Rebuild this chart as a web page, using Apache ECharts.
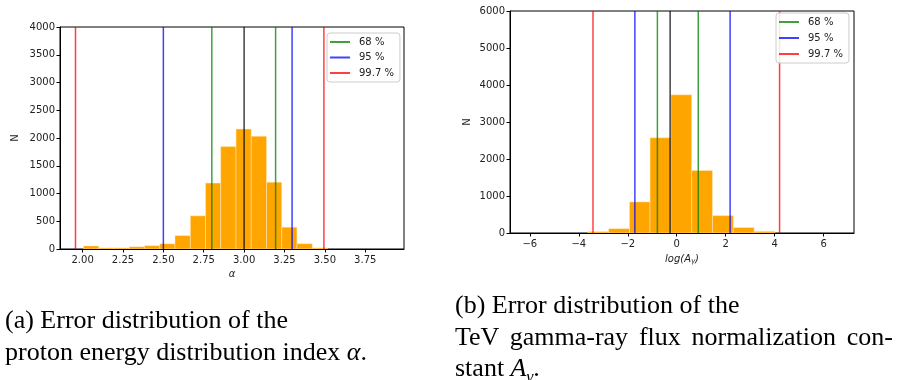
<!DOCTYPE html>
<html>
<head>
<meta charset="utf-8">
<script src="https://cdn.jsdelivr.net/npm/echarts@6/dist/echarts.min.js"></script>
<style>
  html, body { margin: 0; padding: 0; background: #fff; }
  #wrap { position: relative; width: 897px; height: 380px; overflow: hidden; }
  #chart { position: absolute; left: 0; top: 0; width: 897px; height: 380px; }
  .cap { position: absolute; font-family: 'Liberation Serif', serif; font-size: 26px; line-height: 31.7px; color: #000; white-space: nowrap; }
  .cap i { font-style: italic; }
  .just { display: block; text-align: justify; text-align-last: justify; }
</style>
</head>
<body>
<div id="wrap">
  <div id="chart"></div>
  <div class="cap" style="left:5px; top:304px;">
    (a) Error distribution of the<br>
    proton energy distribution index <i>α</i>.
  </div>
  <div class="cap" style="left:455px; top:289px; width:438px;">
    (b) Error distribution of the<br>
    <span class="just">TeV gamma-ray flux normalization con-</span>
    stant <i>A</i><sub style="font-size:17px; line-height:0;"><i>γ</i></sub>.
  </div>
</div>
<script>
// 直方图：左图 alpha 的分箱边界和计数
const alphaEdges = [2.006, 2.100, 2.195, 2.289, 2.383, 2.478, 2.572, 2.667, 2.761,
  2.855, 2.950, 3.044, 3.139, 3.233, 3.327, 3.422, 3.516];
const alphaCounts = [55, 20, 20, 40, 60, 95, 242, 598, 1188, 1845, 2160, 2032, 1204, 392, 96, 20];

// 右图 log(A_gamma) 的分箱边界和计数
const logAEdges = [-3.63, -2.78, -1.93, -1.09, -0.24, 0.61, 1.46, 2.31, 3.16, 4.01];
const logACounts = [36, 117, 840, 2575, 3735, 1690, 470, 148, 44];

// 置信区间竖线位置
const alphaCenter = 3.00;
const alpha68 = [2.80, 3.195];
const alpha95 = [2.50, 3.297];
const alpha997 = [1.956, 3.494];

const logACenter = -0.27;
const logA68 = [-0.79, 0.88];
const logA95 = [-1.71, 2.18];
const logA997 = [-3.42, 4.20];

// 刻度
const alphaTicks = [2.00, 2.25, 2.50, 2.75, 3.00, 3.25, 3.50, 3.75];
const logATicks = [-6, -4, -2, 0, 2, 4, 6];

const legendNames = ['68 %', '95 %', '99.7 %'];
const lineColors = { '68 %': 'rgba(0,128,0,0.75)', '95 %': 'rgba(0,0,255,0.75)', '99.7 %': 'rgba(255,0,0,0.75)' };

const labelFont = { fontFamily: 'DejaVu Sans', fontSize: 10, color: '#222' };

const toBins = (edges, counts) => counts.map((c, i) => [edges[i], edges[i + 1], c]);

// 画直方图的矩形
const histSeries = (idx, edges, counts) => ({
  type: 'custom',
  xAxisIndex: idx,
  yAxisIndex: idx,
  clip: true,
  z: 1,
  encode: { x: [0, 1], y: 2 },
  data: toBins(edges, counts),
  renderItem: (params, api) => {
    const p0 = api.coord([api.value(0), api.value(2)]);
    const p1 = api.coord([api.value(1), 0]);
    return {
      type: 'rect',
      shape: { x: p0[0], y: p0[1], width: p1[0] - p0[0], height: p1[1] - p0[1] },
      style: { fill: '#FFA500', stroke: 'rgba(255,235,200,0.8)', lineWidth: 0.6 }
    };
  }
});

const vline = (idx, name, x, ymax, color) => ({
  type: 'line',
  name: name,
  xAxisIndex: idx,
  yAxisIndex: idx,
  data: [[x, 0], [x, ymax]],
  symbol: 'none',
  silent: true,
  z: 3,
  lineStyle: { color: color, width: 1.5 },
  itemStyle: { color: color }
});

const linesFor = (idx, center, l68, l95, l997, ymax) => {
  const out = [];
  l68.forEach(x => out.push(vline(idx, '68 %', x, ymax, lineColors['68 %'])));
  l95.forEach(x => out.push(vline(idx, '95 %', x, ymax, lineColors['95 %'])));
  l997.forEach(x => out.push(vline(idx, '99.7 %', x, ymax, lineColors['99.7 %'])));
  out.push(vline(idx, 'center', center, ymax, 'rgba(0,0,0,0.75)'));
  return out;
};

const fmtMinus = v => (v < 0 ? '\u2212' + Math.abs(v) : String(v));

const xAxisBase = (idx, min, max, ticks, fmt, name, gap) => ({
  type: 'value',
  gridIndex: idx,
  min: min,
  max: max,
  name: name,
  nameLocation: 'middle',
  nameGap: gap,
  nameTextStyle: {
    fontFamily: 'DejaVu Sans', fontSize: 10, color: '#222', fontStyle: 'italic',
    rich: {
      n: { fontFamily: 'DejaVu Sans', fontSize: 10, color: '#222' },
      i: { fontFamily: 'DejaVu Sans', fontSize: 10, color: '#222', fontStyle: 'italic' },
      s: { fontFamily: 'DejaVu Sans', fontSize: 7, color: '#222', fontStyle: 'italic', padding: [4, 0, 0, 0] }
    }
  },
  splitLine: { show: false },
  axisLine: { show: true, onZero: false, lineStyle: { color: '#000', width: 1 } },
  axisTick: { show: true, length: 3.5, lineStyle: { color: '#000' }, customValues: ticks },
  axisLabel: { ...labelFont, margin: 6, customValues: ticks, formatter: fmt }
});

const yAxisBase = (idx, max, interval, gap) => ({
  type: 'value',
  gridIndex: idx,
  min: 0,
  max: max,
  interval: interval,
  name: 'N',
  nameLocation: 'middle',
  nameGap: gap,
  nameRotate: 90,
  nameTextStyle: { fontFamily: 'DejaVu Sans', fontSize: 10, color: '#222' },
  splitLine: { show: false },
  axisLine: { show: true, onZero: false, lineStyle: { color: '#000', width: 1 } },
  axisTick: { show: true, length: 3.5, lineStyle: { color: '#000' } },
  axisLabel: { ...labelFont, margin: 5, formatter: v => String(v) }
});

const legendBase = (pos, gap) => ({
  data: legendNames,
  orient: 'vertical',
  ...pos,
  icon: 'rect',
  itemWidth: 20,
  itemHeight: 2,
  itemGap: gap,
  padding: [4, 6, 4, 3],
  backgroundColor: 'rgba(255,255,255,0.85)',
  borderColor: '#ccc',
  borderWidth: 1,
  borderRadius: 3,
  selectedMode: false,
  textStyle: { fontFamily: 'DejaVu Sans', fontSize: 10, color: '#222', padding: [0, 0, 0, 4] }
});

const chart = echarts.init(document.getElementById('chart'), null, { renderer: 'canvas' });

chart.setOption({
  animation: false,
  backgroundColor: '#fff',
  grid: [
    { left: 60, top: 27, width: 344, height: 222, show: true, borderColor: '#000', borderWidth: 1 },
    { left: 510, top: 11, width: 344, height: 222, show: true, borderColor: '#000', borderWidth: 1 }
  ],
  legend: [
    legendBase({ left: 327, top: 33 }, 5.5),
    legendBase({ left: 776, top: 13 }, 6)
  ],
  xAxis: [
    xAxisBase(0, 1.86, 3.99, alphaTicks, v => v.toFixed(2), 'α', 20),
    xAxisBase(1, -6.81, 7.24, logATicks, fmtMinus, '{n|log(}{i|A}{s|γ}{n|)}', 21)
  ],
  yAxis: [
    yAxisBase(0, 4000, 500, 40),
    yAxisBase(1, 6000, 1000, 38)
  ],
  series: [
    histSeries(0, alphaEdges, alphaCounts),
    histSeries(1, logAEdges, logACounts),
    ...linesFor(0, alphaCenter, alpha68, alpha95, alpha997, 4000),
    ...linesFor(1, logACenter, logA68, logA95, logA997, 6000)
  ]
});
</script>
</body>
</html>
